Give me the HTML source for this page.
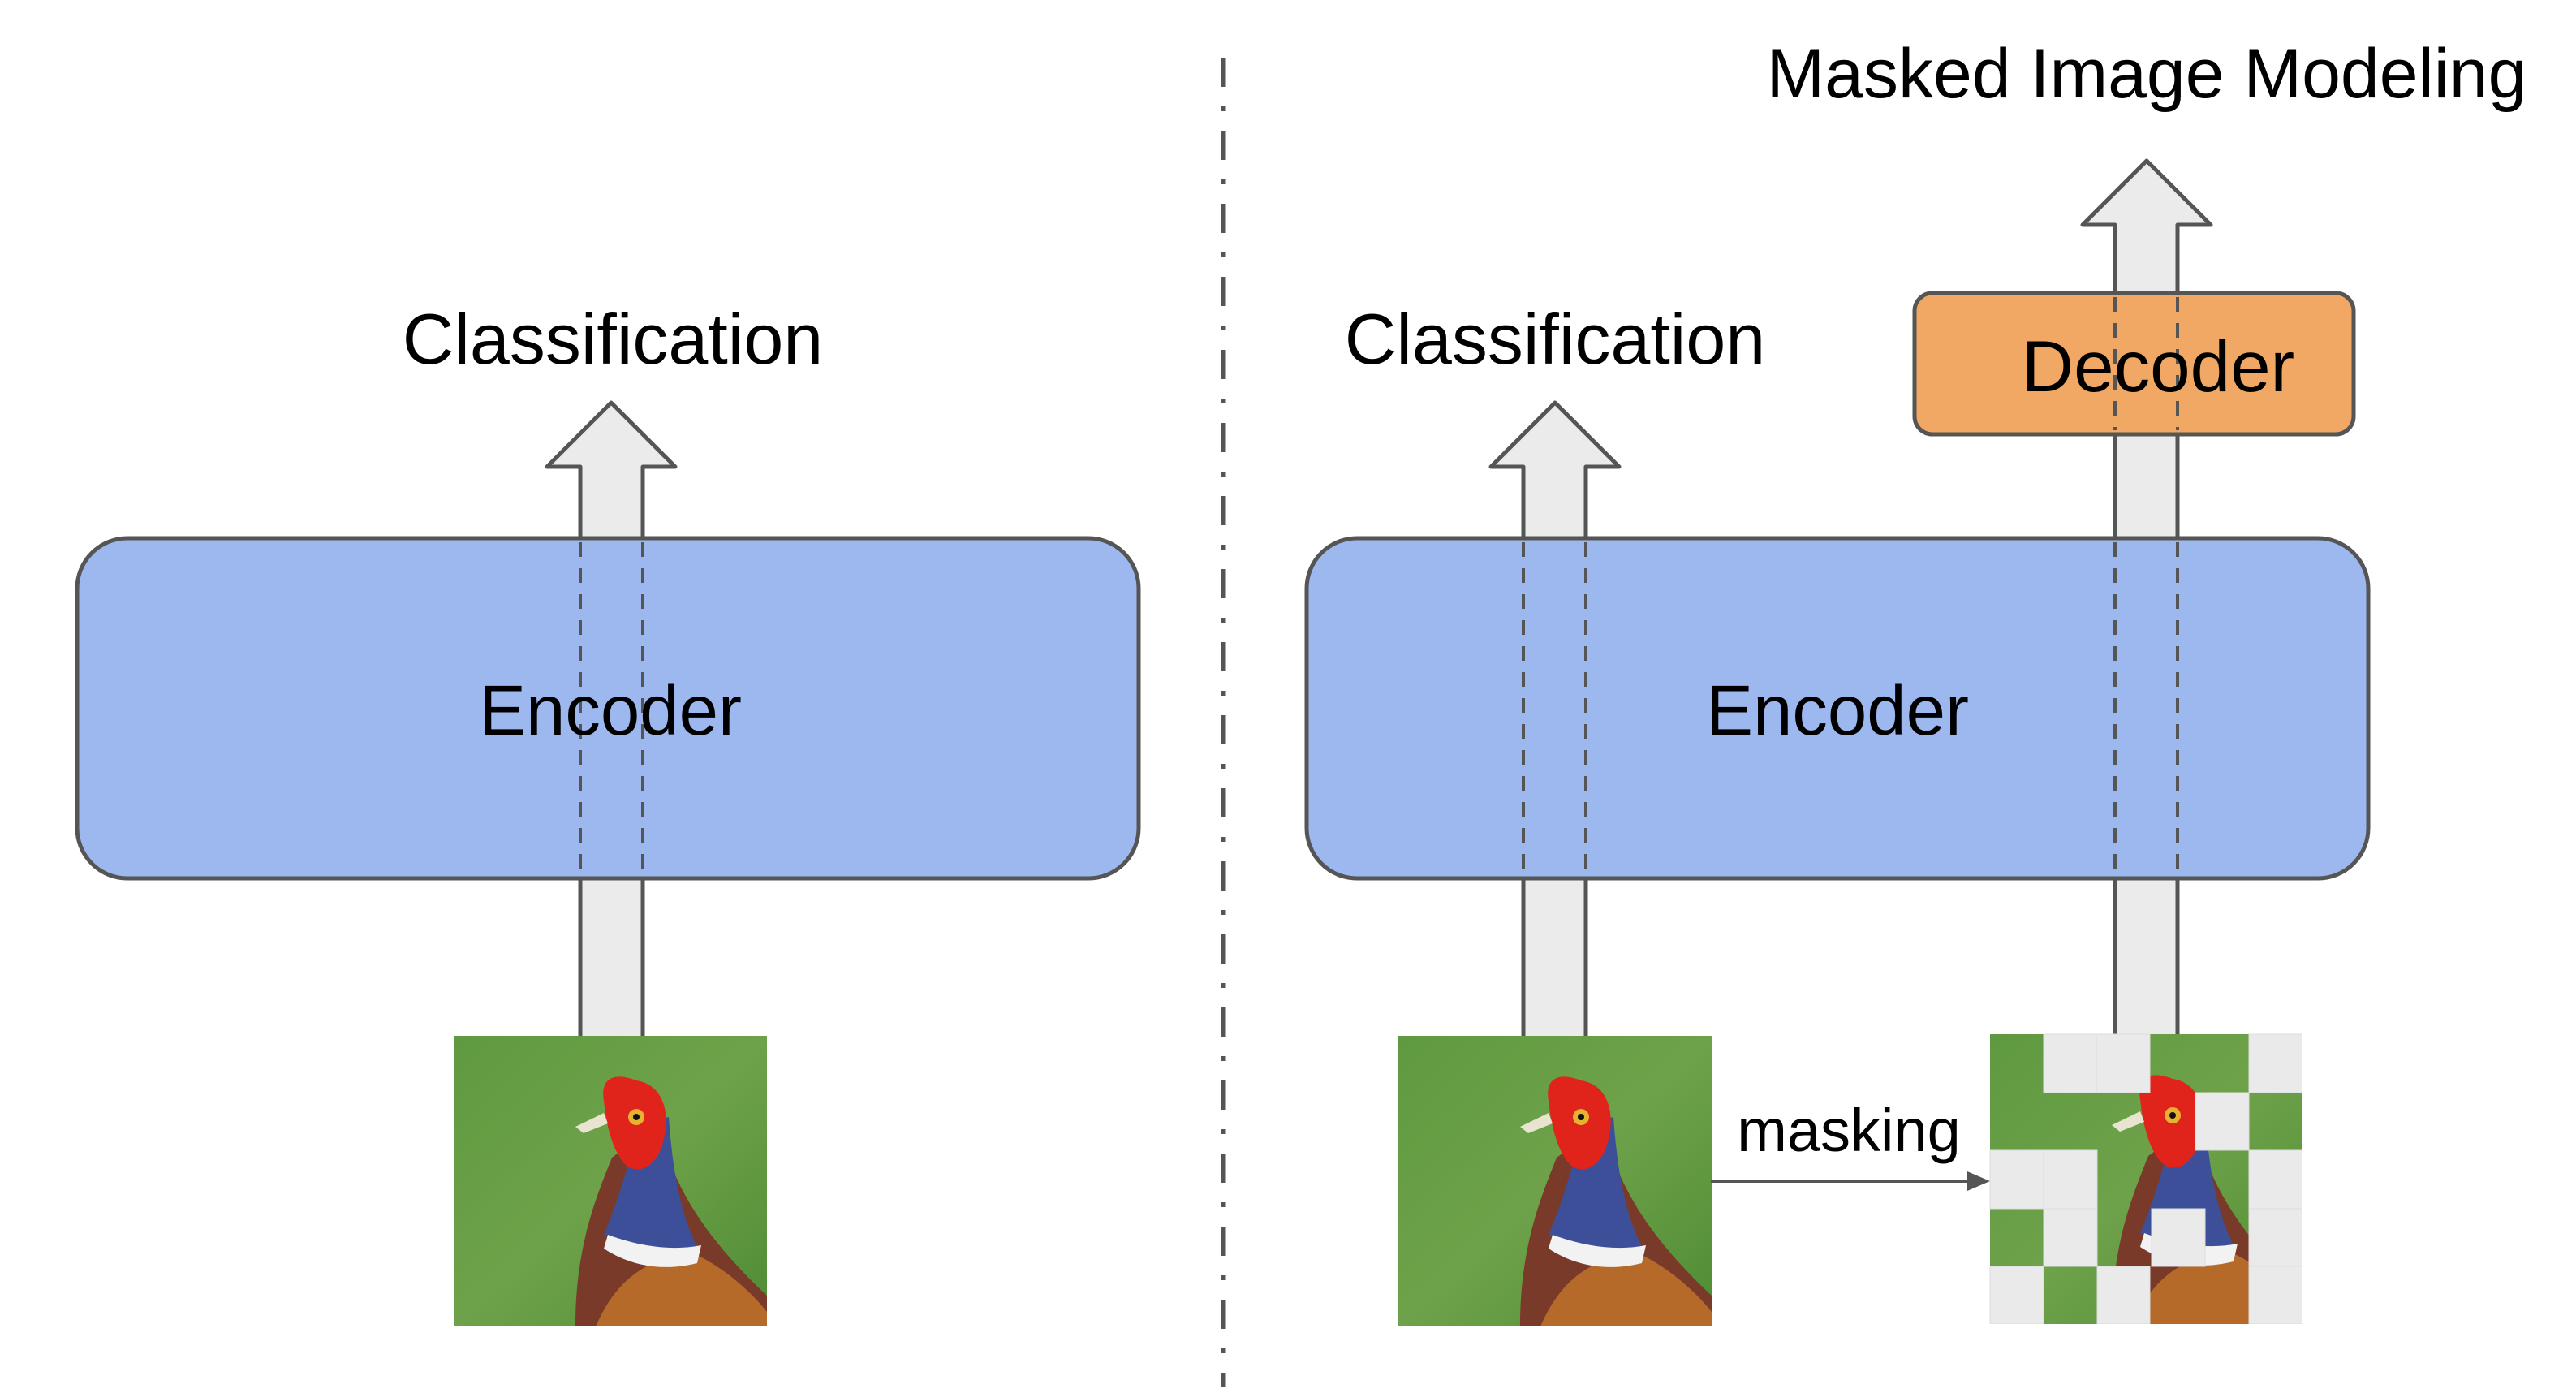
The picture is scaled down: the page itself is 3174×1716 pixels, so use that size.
<!DOCTYPE html>
<html><head><meta charset="utf-8"><style>
html,body{margin:0;padding:0;background:#fff;}
svg{display:block;}
text{font-family:"Liberation Sans",sans-serif;fill:#000;}
</style></head><body>
<svg width="3174" height="1716" viewBox="0 0 3174 1716" xmlns="http://www.w3.org/2000/svg">
<defs>
<linearGradient id="bg" x1="0" y1="0" x2="1" y2="1">
<stop offset="0" stop-color="#5f9a40"/><stop offset="0.5" stop-color="#6ea24a"/><stop offset="1" stop-color="#4f8c34"/>
</linearGradient>
<g id="bird">
<rect x="0" y="0" width="386" height="358" fill="url(#bg)"/>
<path d="M150 358 C150 260 175 200 195 150 L250 110 C270 170 290 230 386 320 L386 358 Z" fill="#7a3a2a"/>
<path d="M175 358 C200 300 240 270 300 270 C340 290 370 320 386 340 L386 358 Z" fill="#b56a2a"/>
<path d="M185 245 C200 210 220 150 225 110 L265 100 C270 170 280 220 300 260 C260 270 220 260 185 245 Z" fill="#3e4f9a"/>
<path d="M190 245 C230 260 270 265 305 258 L300 280 C260 290 220 285 185 262 Z" fill="#f2f2f2"/>
<path d="M185 80 C180 50 200 45 225 55 C260 60 270 100 255 140 C245 165 220 175 205 150 C195 135 188 110 185 80 Z" fill="#e0241c"/>
<circle cx="225" cy="100" r="10" fill="#e6b230"/><circle cx="225" cy="100" r="4" fill="#111"/>
<path d="M185 95 L150 112 L160 120 L190 108 Z" fill="#e8e4d0"/>
</g>
</defs>

<line x1="1507" y1="71" x2="1507" y2="1709" stroke="#555" stroke-width="5" stroke-dasharray="36,24,6,24"/>

<path d="M715 1276 L715 575 L674 575 L753 496 L832 575 L792 575 L792 1276" fill="#ebebeb" stroke="#555" stroke-width="5" stroke-linejoin="round"/>
<rect x="95" y="663" width="1308" height="419" rx="62" fill="#9cb8ee" stroke="#555" stroke-width="5"/>
<line x1="715" y1="668" x2="715" y2="1077" stroke="#555" stroke-width="4" stroke-dasharray="18,14"/>
<line x1="792" y1="668" x2="792" y2="1077" stroke="#555" stroke-width="4" stroke-dasharray="18,14"/>
<text x="755" y="448" font-size="88" text-anchor="middle">Classification</text>
<text x="752" y="905" font-size="87" text-anchor="middle">Encoder</text>
<use href="#bird" x="559" y="1276"/>

<path d="M1877 1276 L1877 575 L1837 575 L1916 496 L1995 575 L1954 575 L1954 1276" fill="#ebebeb" stroke="#555" stroke-width="5" stroke-linejoin="round"/>
<path d="M2606 1276 L2606 277 L2566 277 L2645 198 L2724 277 L2683 277 L2683 1276" fill="#ebebeb" stroke="#555" stroke-width="5" stroke-linejoin="round"/>

<rect x="1610" y="663" width="1308" height="419" rx="62" fill="#9cb8ee" stroke="#555" stroke-width="5"/>
<line x1="1877" y1="668" x2="1877" y2="1077" stroke="#555" stroke-width="4" stroke-dasharray="18,14"/>
<line x1="1954" y1="668" x2="1954" y2="1077" stroke="#555" stroke-width="4" stroke-dasharray="18,14"/>
<line x1="2606" y1="668" x2="2606" y2="1077" stroke="#555" stroke-width="4" stroke-dasharray="18,14"/>
<line x1="2683" y1="668" x2="2683" y2="1077" stroke="#555" stroke-width="4" stroke-dasharray="18,14"/>
<text x="2264" y="905" font-size="87" text-anchor="middle">Encoder</text>

<rect x="2359" y="361" width="541" height="174" rx="22" fill="#f2a865" stroke="#555" stroke-width="5"/>
<line x1="2606" y1="366" x2="2606" y2="530" stroke="#555" stroke-width="4" stroke-dasharray="18,14"/>
<line x1="2683" y1="366" x2="2683" y2="530" stroke="#555" stroke-width="4" stroke-dasharray="18,14"/>
<text x="2659" y="482" font-size="89" text-anchor="middle">Decoder</text>

<text x="1916" y="448" font-size="88" text-anchor="middle">Classification</text>
<text x="2645" y="120" font-size="86" text-anchor="middle">Masked Image Modeling</text>

<use href="#bird" x="1723" y="1276"/>
<text x="2278" y="1418" font-size="74" text-anchor="middle">masking</text>
<line x1="2108" y1="1455" x2="2428" y2="1455" stroke="#555" stroke-width="4"/>
<path d="M2452 1455 L2424 1443 L2424 1467 Z" fill="#555"/>

<g>
<use href="#bird" x="2452" y="1274"/>
<g fill="#eaeaea" stroke="#dcdcdc" stroke-width="1">
<rect x="2518" y="1274" width="65" height="72"/><rect x="2583" y="1274" width="66" height="72"/><rect x="2771" y="1274" width="66" height="72"/>
<rect x="2705" y="1346" width="66" height="71"/>
<rect x="2452" y="1417" width="66" height="72"/><rect x="2518" y="1417" width="66" height="72"/><rect x="2771" y="1417" width="66" height="72"/>
<rect x="2518" y="1489" width="66" height="71"/><rect x="2651" y="1489" width="66" height="71"/><rect x="2771" y="1489" width="66" height="71"/>
<rect x="2452" y="1560" width="66" height="71"/><rect x="2584" y="1560" width="65" height="71"/><rect x="2771" y="1560" width="66" height="71"/>
</g>
<rect x="2837" y="1270" width="20" height="370" fill="#fff"/>
<rect x="2452" y="1631" width="400" height="10" fill="#fff"/>
</g>
</svg>
</body></html>
